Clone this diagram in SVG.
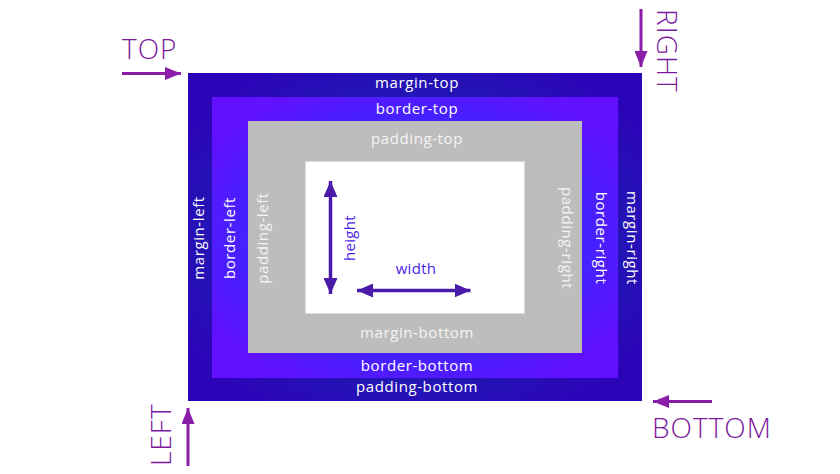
<svg xmlns="http://www.w3.org/2000/svg" width="840" height="474" viewBox="0 0 840 474">
<defs>
<radialGradient id="gMargin" cx="0.5" cy="0.5" r="0.6">
<stop offset="0" stop-color="#1a2db6"/>
<stop offset="0.6" stop-color="#1e1eb4"/>
<stop offset="1" stop-color="#2c04b8"/>
</radialGradient>
<radialGradient id="gBorder" cx="0.5" cy="0.5" r="0.6">
<stop offset="0" stop-color="#2a3cff"/>
<stop offset="0.6" stop-color="#3a28ff"/>
<stop offset="1" stop-color="#6210ff"/>
</radialGradient>
<marker id="ah" viewBox="0 0 16 13" refX="16" refY="6.5" markerWidth="16" markerHeight="13" markerUnits="userSpaceOnUse" orient="auto">
<path d="M0,0 L16,6.5 L0,13 z" fill="#8b1da9"/>
</marker>
<marker id="ih" viewBox="0 0 16 14" refX="16" refY="7" markerWidth="16" markerHeight="14" markerUnits="userSpaceOnUse" orient="auto-start-reverse">
<path d="M0,0 L16,7 L0,14 z" fill="#4a1aa8"/>
</marker>
</defs>
<style>
.lbl{font-family:"Open Sans","Liberation Sans",sans-serif;font-size:15px;letter-spacing:0.6px;fill:#ffffff;text-anchor:middle}
.pl{fill:#f4f4f4}
.big{font-family:"Open Sans","Liberation Sans",sans-serif;font-size:28px;font-weight:300;letter-spacing:1px;fill:#7a1a9c}
.inl{font-family:"Open Sans","Liberation Sans",sans-serif;font-size:15px;letter-spacing:0.3px;fill:#4a24e6;text-anchor:middle}
.arr{stroke:#8b1da9;stroke-width:3;fill:none;marker-end:url(#ah)}
.iarr{stroke:#4a1aa8;stroke-width:3.5;fill:none;marker-start:url(#ih);marker-end:url(#ih)}
</style>
<g id="margin-box">
<rect x="188" y="73" width="454" height="328" fill="url(#gMargin)"/>
<text class="lbl" x="417" y="88">margin-top</text>
<text class="lbl" x="417" y="392">padding-bottom</text>
<text class="lbl" transform="translate(204,238) rotate(-90)">margin-left</text>
<text class="lbl" transform="translate(627,238) rotate(90)">margin-right</text>
</g>
<g id="border-box">
<rect x="212" y="97" width="406" height="281" fill="url(#gBorder)"/>
<text class="lbl" x="417" y="114">border-top</text>
<text class="lbl" x="417" y="371">border-bottom</text>
<text class="lbl" transform="translate(235,238) rotate(-90)">border-left</text>
<text class="lbl" transform="translate(596,238) rotate(90)">border-right</text>
</g>
<g id="padding-box">
<rect x="248" y="121" width="334" height="232" fill="#bdbdbd"/>
<text class="lbl pl" x="417" y="144">padding-top</text>
<text class="lbl pl" x="417" y="338">margin-bottom</text>
<text class="lbl pl" transform="translate(268,238) rotate(-90)">padding-left</text>
<text class="lbl pl" transform="translate(562,238) rotate(90)">padding-right</text>
</g>
<g id="content-box">
<rect x="305.5" y="161.5" width="219" height="152" fill="#ffffff" stroke="#dcdcdc" stroke-width="1"/>
<text class="inl" x="416" y="274">width</text>
<text class="inl" transform="translate(355,238) rotate(-90)">height</text>
</g>
<g id="side-labels">
<text class="big" x="122" y="59">TOP</text>
<text class="big" transform="translate(657,9) rotate(90)">RIGHT</text>
<text class="big" transform="translate(171,466) rotate(-90)">LEFT</text>
<text class="big" x="652" y="438">BOTTOM</text>
</g>
<g id="connectors">
<line class="arr" x1="122" y1="73.5" x2="181" y2="73.5"/>
<line class="arr" x1="641" y1="9" x2="641" y2="67"/>
<line class="arr" x1="188" y1="466" x2="188" y2="408"/>
<line class="arr" x1="712" y1="401.5" x2="653" y2="401.5"/>
<line class="iarr" x1="330.5" y1="181" x2="330.5" y2="294"/>
<line class="iarr" x1="357" y1="290.5" x2="470.5" y2="290.5"/>
</g>
</svg>
